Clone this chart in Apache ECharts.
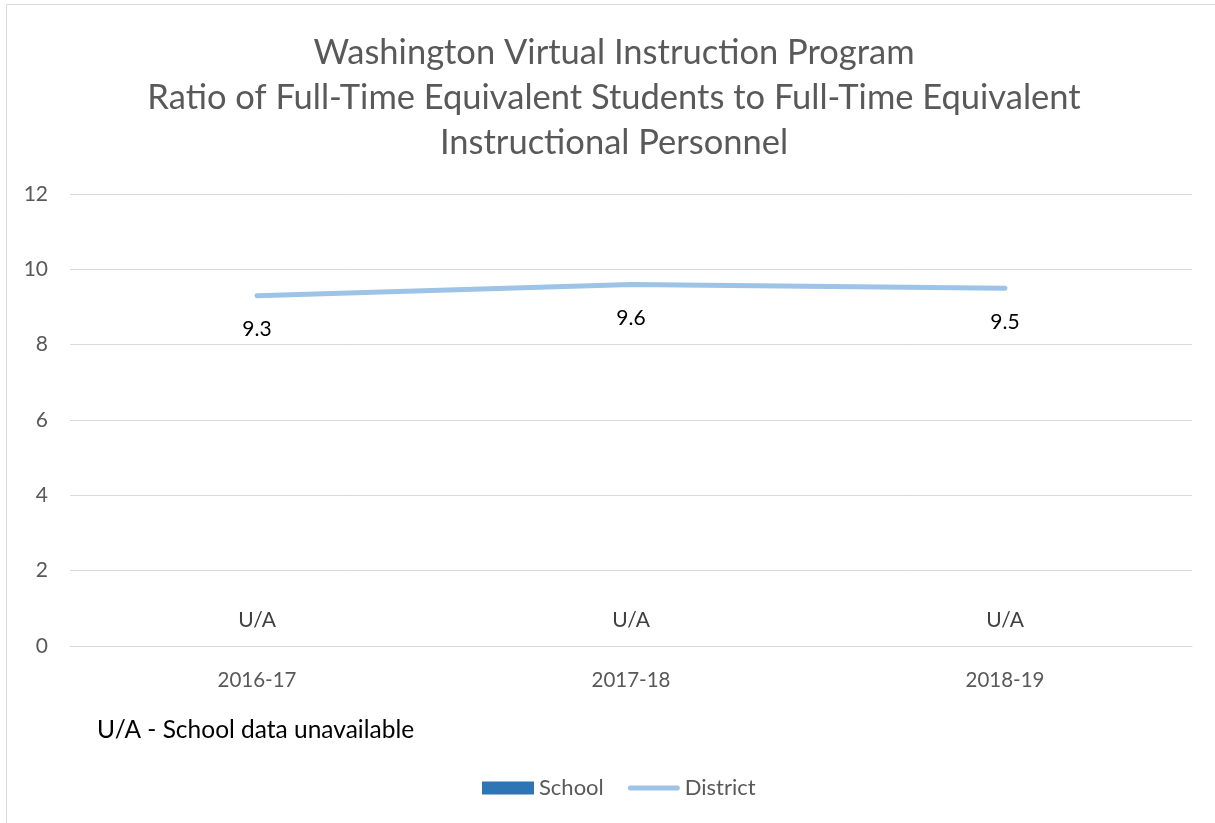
<!DOCTYPE html>
<html>
<head>
<meta charset="utf-8">
<script src="https://cdn.jsdelivr.net/npm/echarts@6/dist/echarts.min.js"></script>
<style>
  html, body { margin: 0; padding: 0; background: #fff; }
  #chart { width: 1215px; height: 823px; }
</style>
</head>
<body>
<div id="chart"></div>
<script>
// chart data
const years = ['2016-17', '2017-18', '2018-19'];
const schoolValues = [0, 0, 0];
const schoolLabels = ['U/A', 'U/A', 'U/A'];
const districtValues = [9.3, 9.6, 9.5];
const yTicks = [0, 2, 4, 6, 8, 10, 12];

const chart = echarts.init(document.getElementById('chart'));
const font = 'Lato';

chart.setOption({
  animation: false,
  textStyle: { fontFamily: font },
  title: {
    text: 'Washington Virtual Instruction Program\nRatio of Full-Time Equivalent Students to Full-Time Equivalent\nInstructional Personnel',
    left: 609,
    textAlign: 'center',
    top: 25,
    textStyle: { fontSize: 34.5, lineHeight: 45, fontWeight: 'normal', color: '#595959', fontFamily: font }
  },
  grid: { left: 70, right: 23, top: 194, bottom: 177 },
  legend: {
    bottom: 19,
    left: 477,
    itemWidth: 52,
    itemHeight: 13,
    itemGap: 24,
    textStyle: { fontSize: 22, color: '#595959' },
    data: [
      { name: 'School', icon: 'rect' },
      { name: 'District', icon: 'path://M2.5,0L49.5,0A2.5,2.5,0,0,1,49.5,5L2.5,5A2.5,2.5,0,0,1,2.5,0Z' }
    ]
  },
  xAxis: {
    type: 'category',
    data: years,
    axisLine: { lineStyle: { color: '#d9d9d9', width: 1 } },
    axisTick: { show: false },
    axisLabel: { color: '#595959', fontSize: 20.5, margin: 24 }
  },
  yAxis: {
    type: 'value',
    min: yTicks[0],
    max: yTicks[yTicks.length - 1],
    interval: 2,
    axisLine: { show: false },
    axisTick: { show: false },
    axisLabel: { color: '#595959', fontSize: 21, margin: 22 },
    splitLine: { lineStyle: { color: '#d9d9d9', width: 1 } }
  },
  series: [
    {
      name: 'School',
      type: 'bar',
      data: schoolValues,
      barWidth: 60,
      itemStyle: { color: '#2E75B6' },
      label: {
        show: true,
        position: 'top',
        distance: 15,
        fontSize: 21,
        color: '#404040',
        formatter: (p) => schoolLabels[p.dataIndex]
      }
    },
    {
      name: 'District',
      type: 'line',
      data: districtValues,
      symbol: 'circle',
      symbolSize: 1,
      lineStyle: { color: '#9DC3E6', width: 5, cap: 'round' },
      itemStyle: { color: '#9DC3E6' },
      label: {
        show: true,
        position: 'bottom',
        distance: 23,
        fontSize: 21,
        color: '#000',
        formatter: (p) => p.value.toFixed(1)
      }
    }
  ],
  graphic: [
    {
      type: 'rect',
      shape: { x: 6.5, y: 4.5, width: 1230, height: 840 },
      style: { fill: 'none', stroke: '#d9d9d9', lineWidth: 1 }
    },
    {
      type: 'text',
      left: 97,
      top: 718,
      style: { text: 'U/A - School data unavailable', fontSize: 24.5, fill: '#000', fontFamily: font }
    }
  ]
});
</script>
</body>
</html>
